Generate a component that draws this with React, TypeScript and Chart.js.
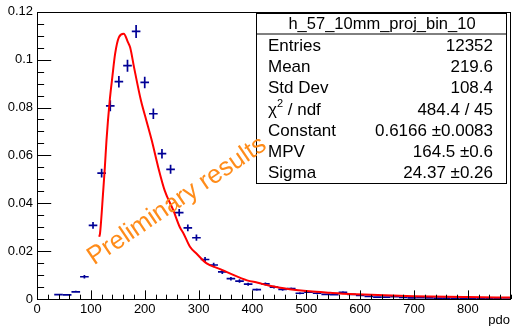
import React, { useEffect, useRef } from 'react';
import { Chart, registerables } from 'chart.js';
Chart.register(...registerables);

// ---- data ----
const binCenters = [40, 56, 72, 88, 104, 120, 136, 152, 168, 184, 200, 216, 232, 248, 264, 280, 296, 312, 328, 344, 360, 376, 392, 408, 424, 440, 456, 472, 488, 504, 520, 536, 552, 568, 584, 600, 616, 632, 648, 664, 680, 696, 712, 728, 744, 760, 776, 792, 808, 824, 840, 856, 872];
const binValues = [0.0018, 0.0017, 0.0030, 0.0093, 0.0308, 0.0526, 0.0807, 0.0908, 0.0975, 0.1118, 0.0905, 0.0774, 0.0607, 0.0542, 0.0361, 0.0297, 0.0256, 0.0165, 0.0142, 0.0113, 0.0085, 0.0075, 0.0062, 0.0039, 0.0063, 0.0050, 0.0040, 0.0043, 0.0024, 0.0029, 0.0024, 0.0019, 0.0018, 0.0028, 0.0019, 0.0015, 0.0011, 0.0008, 0.0008, 0.0010, 0.0007, 0.0005, 0.0006, 0.0005, 0.0004, 0.0004, 0.0003, 0.0004, 0.0003, 0.0004, 0.0003, 0.0004, 0.0005];
const binErrors = [0.00034, 0.00033, 0.00044, 0.00078, 0.0014, 0.0018, 0.0023, 0.0024, 0.0025, 0.0027, 0.0024, 0.0022, 0.0020, 0.0019, 0.0015, 0.0014, 0.0013, 0.0010, 0.00096, 0.00086, 0.00074, 0.0007, 0.00064, 0.0005, 0.00064, 0.00057, 0.00051, 0.00053, 0.0004, 0.00043, 0.0004, 0.00035, 0.00034, 0.00043, 0.00035, 0.0003, 0.00027, 0.00023, 0.00023, 0.00026, 0.00022, 0.00018, 0.0002, 0.00018, 0.00016, 0.00016, 0.00014, 0.00016, 0.00014, 0.00016, 0.00014, 0.00016, 0.00018];
const binHalfWidth = 8;

const fitX = [115.5, 117, 123, 126, 129, 135, 140, 145, 152, 161, 169, 173, 180, 193, 203, 213, 225, 237, 253, 265, 272, 284, 296, 315, 340, 358, 390, 410, 432, 469, 506, 544, 581, 620, 700, 800, 880];
const fitY = [0.026, 0.0274, 0.0454, 0.0551, 0.0663, 0.0829, 0.0930, 0.1024, 0.1093, 0.1108, 0.1072, 0.1051, 0.0970, 0.0829, 0.0746, 0.0663, 0.0551, 0.0454, 0.0371, 0.0301, 0.0274, 0.0218, 0.0190, 0.0149, 0.0125, 0.0107, 0.0078, 0.0068, 0.0055, 0.0041, 0.0032, 0.0026, 0.0021, 0.0018, 0.0012, 0.0008, 0.0006];

const xMin = 0;
const xMax = 880;
const yMin = 0;
const yMax = 0.12;
const xMajorStep = 100;
const xMinorStep = 20;
const yMajorStep = 0.02;
const yMinorStep = 0.005;

const statsTitle = 'h_57_10mm_proj_bin_10';
const statsLabels = ['Entries', 'Mean', 'Std Dev', 'CHI2', 'Constant', 'MPV', 'Sigma'];
const statsValues = ['12352', '219.6', '108.4', '484.4 / 45', '0.6166 \u00B10.0083', '164.5 \u00B10.6', '24.37 \u00B10.26'];
const watermark = 'Preliminary results';
const xAxisTitle = 'pdo';

const FONT = "'Liberation Sans', Arial, Helvetica, sans-serif";
const MARKER = 'rgb(0,0,150)';

const rootPlugin = {
  id: 'rootStyle',
  beforeDatasetsDraw(chart: any) {
    const ctx = chart.ctx;
    const xs = chart.scales.x;
    const ys = chart.scales.y;
    const meta = chart.getDatasetMeta(0);
    ctx.save();
    ctx.strokeStyle = MARKER;
    ctx.lineWidth = 1.7;
    meta.data.forEach((el: any, i: number) => {
      const px = el.x;
      const py = el.y;
      const x0 = xs.getPixelForValue(binCenters[i] - binHalfWidth);
      const x1 = xs.getPixelForValue(binCenters[i] + binHalfWidth);
      const y0 = ys.getPixelForValue(binValues[i] - binErrors[i]);
      const y1 = ys.getPixelForValue(binValues[i] + binErrors[i]);
      ctx.beginPath();
      ctx.moveTo(x0, py);
      ctx.lineTo(x1, py);
      ctx.moveTo(px, y0);
      ctx.lineTo(px, y1);
      ctx.stroke();
    });
    ctx.restore();
  },
  afterDraw(chart: any) {
    const ctx = chart.ctx;
    const a = chart.chartArea;
    const xs = chart.scales.x;
    const ys = chart.scales.y;
    ctx.save();
    // frame
    ctx.strokeStyle = '#000';
    ctx.lineWidth = 1;
    ctx.strokeRect(Math.round(a.left) + 0.5, Math.round(a.top) + 0.5, Math.round(a.right - a.left) - 1, Math.round(a.bottom - a.top));
    // ticks
    ctx.beginPath();
    const xLen = (a.bottom - a.top) * 0.03;
    for (let v = xMin; v <= xMax + 1e-9; v += xMinorStep) {
      const px = Math.round(xs.getPixelForValue(v)) + 0.5;
      const major = Math.abs(v % xMajorStep) < 1e-9;
      const len = major ? xLen : xLen / 2;
      ctx.moveTo(px, a.bottom);
      ctx.lineTo(px, a.bottom - len);
    }
    const yLen = (a.right - a.left) * 0.03;
    const nY = Math.round((yMax - yMin) / yMinorStep);
    for (let k = 0; k <= nY; k++) {
      const v = yMin + k * yMinorStep;
      const py = Math.round(ys.getPixelForValue(v)) + 0.5;
      const major = k % Math.round(yMajorStep / yMinorStep) === 0;
      const len = major ? yLen : yLen / 2;
      ctx.moveTo(a.left, py);
      ctx.lineTo(a.left + len, py);
    }
    ctx.stroke();

    // x axis title
    ctx.fillStyle = '#000';
    ctx.font = `13px ${FONT}`;
    ctx.textAlign = 'right';
    ctx.textBaseline = 'middle';
    ctx.fillText(xAxisTitle, a.right - 1, 320);

    // stats box
    const bx = 256, by = 13, bw = 250, bh = 170, titleH = 20.5;
    ctx.fillStyle = '#fff';
    ctx.fillRect(bx, by, bw, bh);
    ctx.strokeStyle = '#000';
    ctx.lineWidth = 1;
    ctx.strokeRect(bx + 0.5, by + 0.5, bw, bh);
    ctx.beginPath();
    ctx.moveTo(bx, by + titleH + 0.5);
    ctx.lineTo(bx + bw, by + titleH + 0.5);
    ctx.stroke();
    ctx.fillStyle = '#000';
    ctx.font = `16.5px ${FONT}`;
    ctx.textAlign = 'center';
    ctx.textBaseline = 'middle';
    ctx.fillText(statsTitle, bx + bw / 2 + 1, by + titleH / 2 + 1);
    const rowStart = 46;
    const rowStep = 21.3;
    statsLabels.forEach((lab, i) => {
      const y = rowStart + i * rowStep;
      ctx.textAlign = 'left';
      ctx.font = `17px ${FONT}`;
      if (lab === 'CHI2') {
        const lx = 268;
        ctx.fillText('\u03C7', lx, y);
        const w1 = ctx.measureText('\u03C7').width;
        ctx.font = `11px ${FONT}`;
        ctx.fillText('2', lx + w1, y - 6);
        const w2 = ctx.measureText('2').width;
        ctx.font = `17px ${FONT}`;
        ctx.fillText(' / ndf', lx + w1 + w2, y);
      } else {
        ctx.fillText(lab, 268, y);
      }
      ctx.textAlign = 'right';
      ctx.fillText(statsValues[i], 493, y);
    });

    // watermark
    ctx.save();
    ctx.translate(177, 201);
    ctx.rotate(-34 * Math.PI / 180);
    ctx.fillStyle = '#ff8c1a';
    ctx.font = `25.5px ${FONT}`;
    ctx.textAlign = 'center';
    ctx.textBaseline = 'middle';
    ctx.fillText(watermark, 0, 0);
    ctx.restore();

    ctx.restore();
  },
};

export default function App() {
  const ref = useRef<HTMLCanvasElement | null>(null);
  useEffect(() => {
    document.body.style.margin = '0';
    const canvas = ref.current!;
    const chart = new Chart(canvas, {
      type: 'scatter',
      data: {
        datasets: [
          {
            type: 'scatter',
            data: binCenters.map((x, i) => ({ x, y: binValues[i] })),
            pointRadius: 0,
            pointHoverRadius: 0,
            showLine: false,
          } as any,
          {
            type: 'line',
            data: fitX.map((x, i) => ({ x, y: fitY[i] })),
            borderColor: '#ff0000',
            borderWidth: 2,
            pointRadius: 0,
            fill: false,
            cubicInterpolationMode: 'monotone',
          } as any,
        ],
      },
      options: {
        responsive: false,
        animation: false,
        events: [],
        layout: { padding: { top: 11, right: 1, left: 0, bottom: 0 } },
        plugins: { legend: { display: false }, tooltip: { enabled: false } },
        scales: {
          x: {
            type: 'linear',
            min: xMin,
            max: xMax,
            grid: { display: false, drawTicks: false },
            border: { display: false },
            afterFit: (s: any) => { s.height = 27; },
            ticks: {
              stepSize: xMajorStep,
              includeBounds: false,
              maxRotation: 0,
              autoSkip: false,
              padding: 3,
              color: '#000',
              font: { family: FONT, size: 13 },
              callback: (v: any) => (Math.abs(v % xMajorStep) < 1e-9 ? String(v) : ''),
            },
          },
          y: {
            type: 'linear',
            min: yMin,
            max: yMax,
            grid: { display: false, drawTicks: false },
            border: { display: false },
            afterFit: (s: any) => { s.width = 37; },
            ticks: {
              stepSize: yMajorStep,
              autoSkip: false,
              padding: 4,
              color: '#000',
              font: { family: FONT, size: 13 },
              callback: (v: any) => String(parseFloat(Number(v).toFixed(3))),
            },
          },
        },
      },
      plugins: [rootPlugin],
    });
    return () => chart.destroy();
  }, []);
  return (
    <div style={{ width: 512, height: 326, background: '#fff' }}>
      <canvas ref={ref} width={512} height={326} style={{ display: 'block' }} />
    </div>
  );
}
